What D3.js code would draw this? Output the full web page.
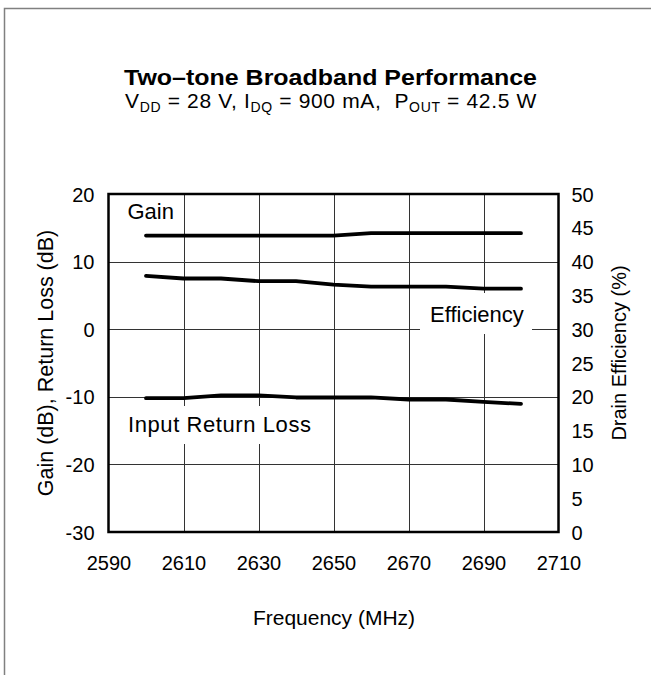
<!DOCTYPE html>
<html><head><meta charset="utf-8">
<script src="https://cdn.jsdelivr.net/npm/d3@7"></script>
<style>
html,body{margin:0;padding:0;background:#fff;}
svg{display:block;font-family:"Liberation Sans",Arial,Helvetica,sans-serif;}
</style></head>
<body>
<svg id="chart" width="651" height="675"></svg>
<script>
// ---- data ----
const freq = [2600, 2610, 2620, 2630, 2640, 2650, 2660, 2670, 2680, 2690, 2700];
const gain = [13.85, 13.85, 13.85, 13.85, 13.85, 13.85, 14.2, 14.2, 14.2, 14.2, 14.2];
const efficiency = [37.9, 37.5, 37.5, 37.1, 37.1, 36.6, 36.3, 36.3, 36.3, 36.0, 36.0];
const inputReturnLoss = [-10.2, -10.2, -9.8, -9.8, -10.1, -10.1, -10.1, -10.4, -10.4, -10.75, -11.05];
const xTicks = [2590, 2610, 2630, 2650, 2670, 2690, 2710];
const yLeftTicks = [20, 10, 0, -10, -20, -30];
const yRightTicks = [0, 5, 10, 15, 20, 25, 30, 35, 40, 45, 50];

const svg = d3.select("#chart");
const L = 108.5, R = 558.5, T = 194, B = 532;

const x = d3.scaleLinear().domain([2590, 2710]).range([L, R]);
const yL = d3.scaleLinear().domain([-30, 20]).range([B, T]);
const yR = d3.scaleLinear().domain([0, 50]).range([B, T]);

// outer frame
svg.append("rect").attr("x", 4.5).attr("y", 8.5).attr("width", 700).attr("height", 700)
  .attr("fill", "none").attr("stroke", "#808080").attr("stroke-width", 1.5);

// title
svg.append("text").attr("x", 330.5).attr("y", 85).attr("text-anchor", "middle")
  .attr("font-size", 22).attr("font-weight", "bold").attr("fill", "#000")
  .attr("textLength", 413).attr("lengthAdjust", "spacingAndGlyphs")
  .text("Two\u2013tone Broadband Performance");

const sub = svg.append("text").attr("x", 331).attr("y", 108).attr("text-anchor", "middle")
  .attr("font-size", 21).attr("fill", "#000");
const parts = [["V", false], ["DD", true], [" = 28 V, I", false], ["DQ", true], [" = 900 mA,  P", false], ["OUT", true], [" = 42.5 W", false]];
parts.forEach(([t, s]) => {
  const ts = sub.append("tspan").text(t);
  if (s) ts.attr("font-size", 14).attr("dy", 4);
});
sub.selectAll("tspan").each(function(d, i) {
  if (i > 0 && parts[i - 1][1] && !parts[i][1]) d3.select(this).attr("dy", -4);
});
sub.style("white-space", "pre");
const subLen = sub.node().getComputedTextLength();
const nChars = parts.map(p => p[0]).join("").length;
sub.attr("letter-spacing", ((412 - subLen) / nChars).toFixed(3));

// gridlines
const grid = svg.append("g").attr("stroke", "#333").attr("stroke-width", 1);
grid.selectAll("line.v").data(xTicks.slice(1, -1)).join("line")
  .attr("x1", d => Math.round(x(d)) + 0.5).attr("x2", d => Math.round(x(d)) + 0.5)
  .attr("y1", T).attr("y2", B);
grid.selectAll("line.h").data(yLeftTicks.slice(1, -1)).join("line")
  .attr("y1", d => Math.round(yL(d)) + 0.5).attr("y2", d => Math.round(yL(d)) + 0.5)
  .attr("x1", L).attr("x2", R);

// label boxes (white) and labels
const labelFont = 22;
svg.append("rect").attr("x", 420).attr("y", 293).attr("width", 112).attr("height", 41).attr("fill", "#fff");
svg.append("rect").attr("x", 118).attr("y", 406).attr("width", 202).attr("height", 38).attr("fill", "#fff");
svg.append("text").attr("x", 127.5).attr("y", 218.5).attr("font-size", labelFont).text("Gain");
svg.append("text").attr("x", 430).attr("y", 321.5).attr("font-size", labelFont).text("Efficiency");
svg.append("text").attr("x", 128).attr("y", 431.5).attr("font-size", labelFont)
  .attr("textLength", 183).attr("lengthAdjust", "spacing").text("Input Return Loss");

// data lines
const lineL = d3.line().x((d, i) => x(freq[i])).y(d => yL(d));
const lineR = d3.line().x((d, i) => x(freq[i])).y(d => yR(d));
const lineStyle = p => p.attr("fill", "none").attr("stroke", "#000").attr("stroke-width", 3.8)
  .attr("stroke-linecap", "round").attr("stroke-linejoin", "round");
svg.append("path").datum(gain).attr("d", lineL).call(lineStyle);
svg.append("path").datum(efficiency).attr("d", lineR).call(lineStyle);
svg.append("path").datum(inputReturnLoss).attr("d", lineL).call(lineStyle);

// plot border
svg.append("rect").attr("x", L).attr("y", T).attr("width", R - L).attr("height", B - T)
  .attr("fill", "none").attr("stroke", "#000").attr("stroke-width", 2.5);

// axes (tick labels only)
const tickFont = 20;
const fmt = d => String(d);
const xAxis = d3.axisBottom(x).tickValues(xTicks).tickSize(0).tickPadding(0).tickFormat(fmt);
const gx = svg.append("g").attr("transform", `translate(0,${B})`).call(xAxis);
gx.select(".domain").remove();
gx.selectAll("text").attr("font-size", tickFont).attr("font-family", null).attr("fill", "#000")
  .attr("dy", null).attr("y", 38);

const yAxisL = d3.axisLeft(yL).tickValues(yLeftTicks).tickSize(0).tickPadding(0).tickFormat(fmt);
const gyl = svg.append("g").attr("transform", `translate(${L},0)`).call(yAxisL);
gyl.select(".domain").remove();
gyl.selectAll("text").attr("font-size", tickFont).attr("font-family", null).attr("fill", "#000")
  .attr("x", -14).attr("dy", "0.35em");

const yAxisR = d3.axisRight(yR).tickValues(yRightTicks).tickSize(0).tickPadding(0).tickFormat(fmt);
const gyr = svg.append("g").attr("transform", `translate(${R},0)`).call(yAxisR);
gyr.select(".domain").remove();
gyr.selectAll("text").attr("font-size", tickFont).attr("font-family", null).attr("fill", "#000")
  .attr("x", 13).attr("dy", "0.35em");

// axis titles
svg.append("text").attr("x", 334).attr("y", 625).attr("text-anchor", "middle")
  .attr("font-size", 21).text("Frequency (MHz)");
svg.append("text").attr("transform", "translate(53,363) rotate(-90)").attr("text-anchor", "middle")
  .attr("font-size", 21.5).text("Gain (dB), Return Loss (dB)");
svg.append("text").attr("transform", "translate(626,353) rotate(-90)").attr("text-anchor", "middle")
  .attr("font-size", 20).text("Drain Efficiency (%)");
</script>
</body></html>
